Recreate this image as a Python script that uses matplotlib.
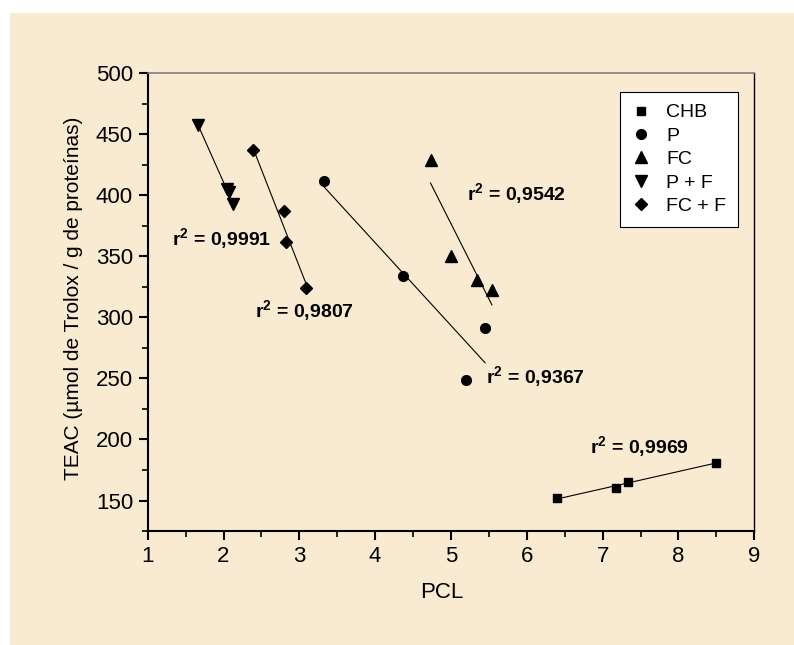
import numpy as np
import matplotlib
matplotlib.use("Agg")
import matplotlib.pyplot as plt
from matplotlib.patches import Rectangle
from matplotlib.ticker import MultipleLocator

plt.rcParams['font.family'] = ['Liberation Sans', 'DejaVu Sans']
plt.rcParams['mathtext.fontset'] = 'custom'
plt.rcParams['mathtext.rm'] = 'Liberation Sans'
plt.rcParams['mathtext.bf'] = 'Liberation Sans:bold'

# data
chb_x = [6.40, 7.18, 7.33, 8.49]
chb_y = [152, 160.5, 165, 181]
p_x = [3.32, 4.37, 5.45, 5.20]
p_y = [412, 334, 291, 249]
fc_x = [4.73, 5.00, 5.34, 5.54]
fc_y = [429, 350, 330.5, 322.5]
pf_x = [1.66, 2.04, 2.07, 2.12]
pf_y = [458, 405, 403, 392.5]
fcf_x = [2.385, 2.80, 2.82, 3.09]
fcf_y = [437, 387, 362, 324.5]

series_names = ['CHB', 'P', 'FC', 'P + F', 'FC + F']
r2_labels = ['0,9969', '0,9367', '0,9542', '0,9991', '0,9807']
r2_pos = [(7.48, 194), (6.12, 251), (5.86, 401), (1.98, 364), (3.07, 305)]

xs = [chb_x, p_x, fc_x, pf_x, fcf_x]
ys = [chb_y, p_y, fc_y, pf_y, fcf_y]
markers = ['s', 'o', '^', 'v', 'D']
msizes = [5.5, 7, 8.5, 8.5, 6.5]

fig = plt.figure(figsize=(7.94, 6.45), dpi=100, facecolor='white')
# parchment-like background panel
fig.patches.append(Rectangle((10 / 794, 0), 1 - 10 / 794, 1 - 13 / 645,
                             transform=fig.transFigure, facecolor='#F9EBD1',
                             edgecolor='none', zorder=0))

ax = fig.add_axes([0.186, 0.1767, 0.764, 0.7097])
ax.set_zorder(2)
ax.patch.set_alpha(0)

for x, y, m, ms, name in zip(xs, ys, markers, msizes, series_names):
    ax.plot(x, y, linestyle='none', marker=m, ms=ms, color='black', label=name, zorder=3)
    a, b = np.polyfit(x, y, 1)
    xx = np.array([min(x), max(x)])
    ax.plot(xx, a * xx + b, color='black', lw=0.8, zorder=2)

for txt, (tx, ty) in zip(r2_labels, r2_pos):
    ax.text(tx, ty, r'r$^{\mathbf{2}}$ = ' + txt, fontsize=14, fontweight='bold',
            ha='center', va='center')

ax.set_xlim(1, 9)
ax.set_ylim(125, 500)
ax.xaxis.set_major_locator(MultipleLocator(1))
ax.xaxis.set_minor_locator(MultipleLocator(0.5))
ax.yaxis.set_major_locator(MultipleLocator(50))
ax.yaxis.set_minor_locator(MultipleLocator(25))
ax.set_yticks([150, 200, 250, 300, 350, 400, 450, 500])

ax.tick_params(which='major', direction='out', length=6.5, width=1.5,
               labelsize=16, pad=4)
ax.tick_params(which='minor', direction='out', length=4, width=1.2)
ax.tick_params(top=False, right=False, which='both')

for s in ['left', 'bottom']:
    ax.spines[s].set_linewidth(1.5)
ax.spines['top'].set_color('#808080')
ax.spines['top'].set_linewidth(1.2)
ax.spines['right'].set_linewidth(1.0)

ax.set_xlabel('PCL', fontsize=16)
ax.set_ylabel('TEAC (µmol de Trolox / g de proteínas)', fontsize=15)
ax.xaxis.set_label_coords(0.485, -0.135)
ax.yaxis.set_label_coords(-0.123, 0.509)
ax.xaxis.label.set_va('center')
ax.yaxis.label.set_va('center')

leg = ax.legend(loc='upper right', bbox_to_anchor=(0.973, 0.959),
                bbox_transform=ax.transAxes, borderaxespad=0, fontsize=14,
                frameon=True, fancybox=False, framealpha=1, edgecolor='black',
                borderpad=0.6, handlelength=1.0, handletextpad=0.8,
                labelspacing=0.3, numpoints=1)
leg.get_frame().set_linewidth(0.8)

fig.savefig('out.png', dpi=100, facecolor=fig.get_facecolor())
